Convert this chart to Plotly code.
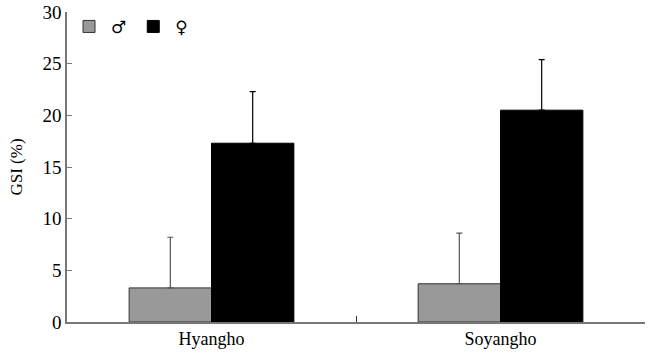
import plotly.graph_objects as go

sites = ["Hyangho", "Soyangho"]
male_gsi = [3.3, 3.7]
male_err = [4.9, 4.9]
female_gsi = [17.3, 20.5]
female_err = [5.0, 4.9]
yticks = [0, 5, 10, 15, 20, 25, 30]

fig = go.Figure()
fig.add_trace(go.Bar(
    x=sites, y=male_gsi, name="♂",
    marker=dict(color="#999999", line=dict(color="#333333", width=1)),
    error_y=dict(type="data", array=male_err, arrayminus=[0, 0], symmetric=False,
                 color="#555555", thickness=1.2, width=3),
))
fig.add_trace(go.Bar(
    x=sites, y=female_gsi, name="♀",
    marker=dict(color="#000000", line=dict(color="#000000", width=1)),
    error_y=dict(type="data", array=female_err, arrayminus=[0, 0], symmetric=False,
                 color="#000000", thickness=1.2, width=3),
))

fig.update_layout(
    width=651, height=353,
    margin=dict(l=67, r=6, t=12, b=31),
    paper_bgcolor="white", plot_bgcolor="white",
    font=dict(family="Liberation Serif, Times New Roman, serif", size=18, color="black"),
    barmode="group", bargap=0.43, bargroupgap=0,
    showlegend=True,
    legend=dict(orientation="h", x=0.0, y=1.01, xanchor="left", yanchor="top",
                bgcolor="rgba(0,0,0,0)",
                font=dict(family="DejaVu Sans, sans-serif", size=17, color="black"),
                itemwidth=34, tracegroupgap=0),
)
fig.update_xaxes(
    automargin=False,
    showline=True, linecolor="#777777", linewidth=1.5,
    ticks="inside", tickson="boundaries", ticklen=6, tickcolor="#333333",
    showgrid=False, tickfont=dict(size=18), ticklabelstandoff=0,
)
fig.update_yaxes(
    automargin=False,
    range=[0, 30], tickvals=yticks,
    showline=True, linecolor="#777777", linewidth=1.5,
    ticks="inside", ticklen=5, tickcolor="#777777",
    showgrid=False, zeroline=False, ticklabeloverflow="allow",
    title=dict(text="GSI (%)", font=dict(size=17), standoff=16),
    tickfont=dict(size=19),
)

fig.write_html(
    "out.html",
    config={"displayModeBar": False},
    post_script="document.body.style.margin='0px';document.body.style.padding='0px';",
)
